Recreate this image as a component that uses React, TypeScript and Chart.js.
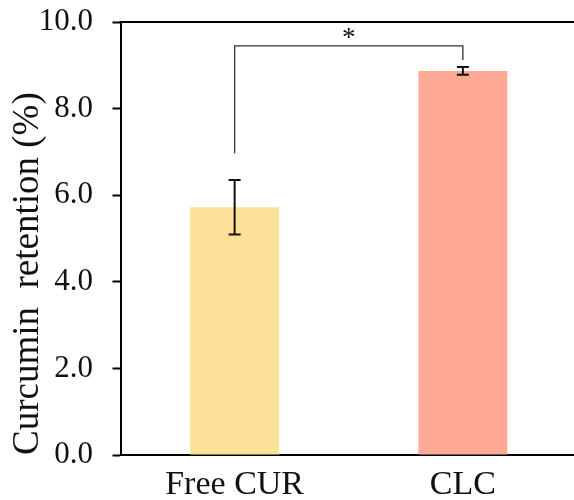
import React, { useEffect, useRef } from "react";
import { Chart, registerables } from "chart.js";

Chart.register(...registerables);

const categories = ["Free CUR", "CLC"];
const retention = [5.72, 8.87];
const errors = [0.63, 0.09];
const barColors = ["#FEE198", "#FDA996"];
const yTicks = [0, 2, 4, 6, 8, 10];
// significance bracket: [left leg bottom, right leg bottom, bar level, star level]
const bracketLevels = [6.97, 9.12, 9.45, 9.75];
const significanceMark = "*";
const yTitle = "Curcumin  retention (%)";

const FONT = "'Liberation Serif', 'Times New Roman', serif";

const overlayPlugin = {
  id: "overlay",
  afterDatasetsDraw(chart: any) {
    const { ctx, chartArea, scales } = chart;
    const x = scales.x;
    const y = scales.y;
    ctx.save();
    // top frame line
    ctx.strokeStyle = "#000";
    ctx.lineWidth = 2;
    ctx.beginPath();
    ctx.moveTo(chartArea.left - 1, chartArea.top);
    ctx.lineTo(chartArea.right, chartArea.top);
    ctx.stroke();

    // error bars
    const cap = 6;
    retention.forEach((v, i) => {
      const px = x.getPixelForValue(i);
      const hi = y.getPixelForValue(v + errors[i]);
      const lo = y.getPixelForValue(v - errors[i]);
      ctx.strokeStyle = "#111";
      ctx.lineWidth = 2;
      ctx.beginPath();
      ctx.moveTo(px, hi);
      ctx.lineTo(px, lo);
      ctx.moveTo(px - cap, hi);
      ctx.lineTo(px + cap, hi);
      ctx.moveTo(px - cap, lo);
      ctx.lineTo(px + cap, lo);
      ctx.stroke();
    });

    // significance bracket
    const x0 = x.getPixelForValue(0);
    const x1 = x.getPixelForValue(1);
    const yl = y.getPixelForValue(bracketLevels[0]);
    const yr = y.getPixelForValue(bracketLevels[1]);
    const yb = y.getPixelForValue(bracketLevels[2]);
    ctx.strokeStyle = "#333";
    ctx.lineWidth = 1.3;
    ctx.beginPath();
    ctx.moveTo(x0, yl);
    ctx.lineTo(x0, yb);
    ctx.lineTo(x1, yb);
    ctx.lineTo(x1, yr);
    ctx.stroke();

    const starSize = 27;
    ctx.fillStyle = "#111";
    ctx.font = `${starSize}px ${FONT}`;
    ctx.textAlign = "center";
    ctx.textBaseline = "alphabetic";
    ctx.fillText(
      significanceMark,
      (x0 + x1) / 2,
      y.getPixelForValue(bracketLevels[3]) + starSize * 0.47
    );
    ctx.restore();
  },
};

export default function App() {
  const ref = useRef<HTMLCanvasElement | null>(null);
  useEffect(() => {
    if (!ref.current) return;
    const chart = new Chart(ref.current, {
      type: "bar",
      data: {
        labels: categories,
        datasets: [
          {
            data: retention,
            backgroundColor: barColors,
            borderWidth: 0,
            barPercentage: 0.39,
            categoryPercentage: 1,
          },
        ],
      },
      options: {
        responsive: false,
        animation: false,
        devicePixelRatio: 1,
        layout: { padding: { left: 0, right: 3, top: 22, bottom: 0 } },
        plugins: {
          legend: { display: false },
          tooltip: { enabled: false },
        },
        scales: {
          x: {
            offset: true,
            grid: { display: false, drawTicks: false },
            border: { display: true, color: "#000", width: 2 },
            afterFit: (scale: any) => {
              scale.height = 45;
            },
            ticks: {
              color: "#111",
              padding: 10,
              font: { family: FONT, size: 34, lineHeight: 1.2 },
            },
          },
          y: {
            min: 0,
            max: 10,
            afterBuildTicks: (scale: any) => {
              scale.ticks = yTicks.map((v) => ({ value: v }));
            },
            afterFit: (scale: any) => {
              scale.width = 120.5;
              scale.paddingTop = 0;
              scale.paddingBottom = 0;
            },
            grid: {
              display: true,
              drawOnChartArea: false,
              drawTicks: true,
              tickLength: 8,
              tickColor: "#000",
              tickWidth: 2,
            },
            border: { display: true, color: "#000", width: 2 },
            ticks: {
              color: "#111",
              padding: 19.5,
              font: { family: FONT, size: 31, lineHeight: 1.2 },
              callback: (v: any) => Number(v).toFixed(1),
            },
            title: {
              display: true,
              text: yTitle,
              align: "start",
              color: "#111",
              padding: { top: 10, bottom: 0 },
              font: { family: FONT, size: 37, lineHeight: 1 },
            },
          },
        },
      },
      plugins: [overlayPlugin],
    });
    return () => chart.destroy();
  }, []);

  return (
    <div
      style={{
        position: "fixed",
        left: 0,
        top: 0,
        width: 574,
        height: 500,
        overflow: "hidden",
        background: "#fff",
      }}
    >
      <canvas ref={ref} width={580} height={500} style={{ width: 580, height: 500, display: "block" }} />
    </div>
  );
}
